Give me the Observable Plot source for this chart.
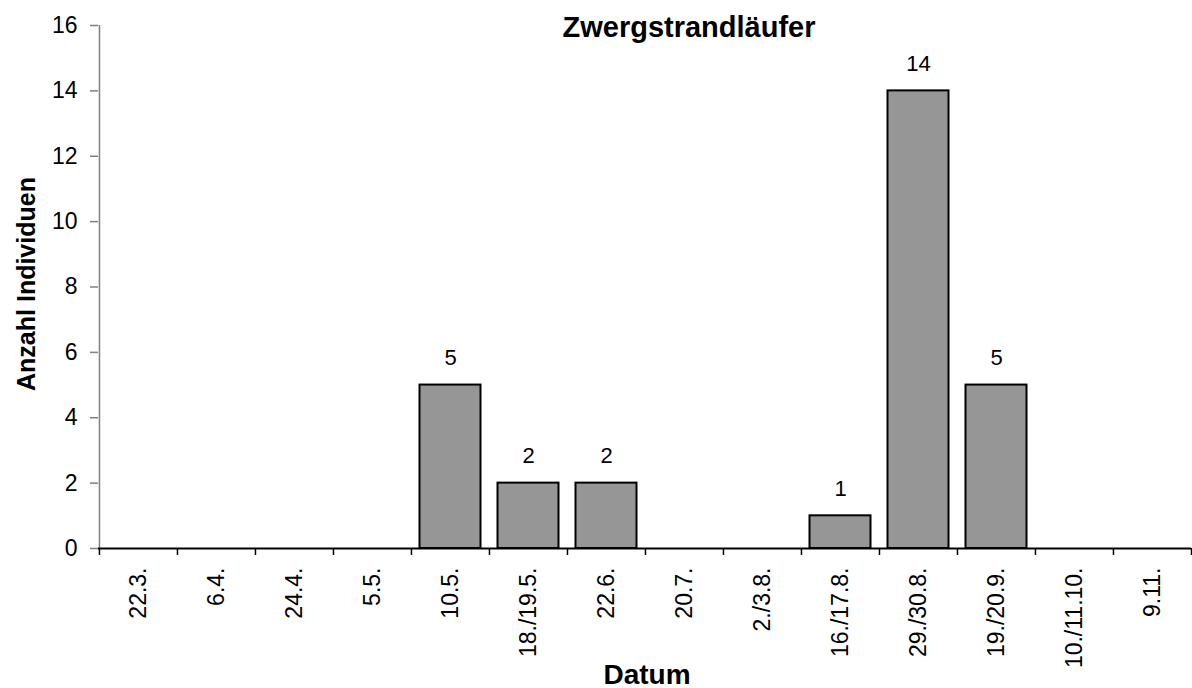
<!DOCTYPE html>
<html>
<head>
<meta charset="utf-8">
<script src="https://cdn.jsdelivr.net/npm/d3@7"></script>
<script src="https://cdn.jsdelivr.net/npm/@observablehq/plot@0.6"></script>
<style>
  html, body { margin: 0; padding: 0; background: #fff; }
  #chart { width: 1192px; height: 688px; }
  svg { font-family: "Liberation Sans", Arial, sans-serif; }
</style>
</head>
<body>
<div id="chart"></div>
<script>
const categories = ["22.3.", "6.4.", "24.4.", "5.5.", "10.5.", "18./19.5.", "22.6.", "20.7.", "2./3.8.", "16./17.8.", "29./30.8.", "19./20.9.", "10./11.10.", "9.11."];
const counts = [0, 0, 0, 0, 5, 2, 2, 0, 0, 1, 14, 5, 0, 0];
const yTicks = [0, 2, 4, 6, 8, 10, 12, 14, 16];
const title = "Zwergstrandläufer";
const xTitle = "Datum";
const yTitle = "Anzahl Individuen";

const data = categories.map((c, i) => ({date: c, n: counts[i]}));
const nonZero = data.filter(d => d.n > 0);

const W = 1192, H = 688;
const mL = 98, mR = 1, mT = 25, mB = 140;
const step = (W - mL - mR) / categories.length;
const font = "\"Liberation Sans\", Arial, sans-serif";

const chart = Plot.plot({
  width: W,
  height: H,
  marginLeft: mL,
  marginRight: mR,
  marginTop: mT,
  marginBottom: mB,
  style: {fontFamily: font, fontSize: "23px", color: "#000", background: "#fff", overflow: "visible"},
  x: {type: "band", domain: categories, padding: 0, axis: null},
  y: {domain: [0, 16], axis: null},
  marks: [
    // y axis line (gray)
    Plot.ruleX([0], {x: () => categories[0], y1: 0, y2: 16, dx: -step / 2, stroke: "#808080", strokeWidth: 1.5}),
    // y axis ticks + labels
    Plot.axisY({ticks: yTicks, tickSize: 8, tickPadding: 13, stroke: "#808080", strokeWidth: 1.5, fill: "#000", fontSize: 23, label: null}),
    // bars
    Plot.barY(nonZero, {x: "date", y: "n", fill: "#969696", stroke: "#000", strokeWidth: 2, insetLeft: 8.5, insetRight: 8.5}),
    // x axis line
    Plot.ruleY([0], {stroke: "#000", strokeWidth: 2}),
    // category boundary ticks
    Plot.ruleX(categories, {x: d => d, y1: 0, y2: 0, insetBottom: -7, dx: -step / 2, stroke: "#000", strokeWidth: 1.5}),
    Plot.ruleX(categories.slice(-1), {x: d => d, y1: 0, y2: 0, insetBottom: -7, dx: step / 2, stroke: "#000", strokeWidth: 1.5}),
    // rotated category labels
    Plot.text(categories, {x: d => d, text: d => d, frameAnchor: "bottom", dy: 19, rotate: -90, textAnchor: "end", lineAnchor: "middle", fontSize: 23, fill: "#000"}),
    // value labels
    Plot.text(nonZero, {x: "date", y: "n", text: d => String(d.n), dy: -20, lineAnchor: "bottom", fontSize: 22, fill: "#000"})
  ]
});

const svg = d3.select(chart);
svg.append("text")
  .attr("x", 689).attr("y", 37)
  .attr("text-anchor", "middle")
  .attr("font-family", font).attr("font-weight", "bold").attr("font-size", 29)
  .attr("fill", "#000")
  .text(title);
svg.append("text")
  .attr("x", 647).attr("y", 684)
  .attr("text-anchor", "middle")
  .attr("font-family", font).attr("font-weight", "bold").attr("font-size", 28)
  .attr("fill", "#000")
  .text(xTitle);
svg.append("text")
  .attr("transform", "translate(35,284) rotate(-90)")
  .attr("text-anchor", "middle")
  .attr("font-family", font).attr("font-weight", "bold").attr("font-size", 25)
  .attr("fill", "#000")
  .text(yTitle);

document.getElementById("chart").appendChild(chart);
</script>
</body>
</html>
